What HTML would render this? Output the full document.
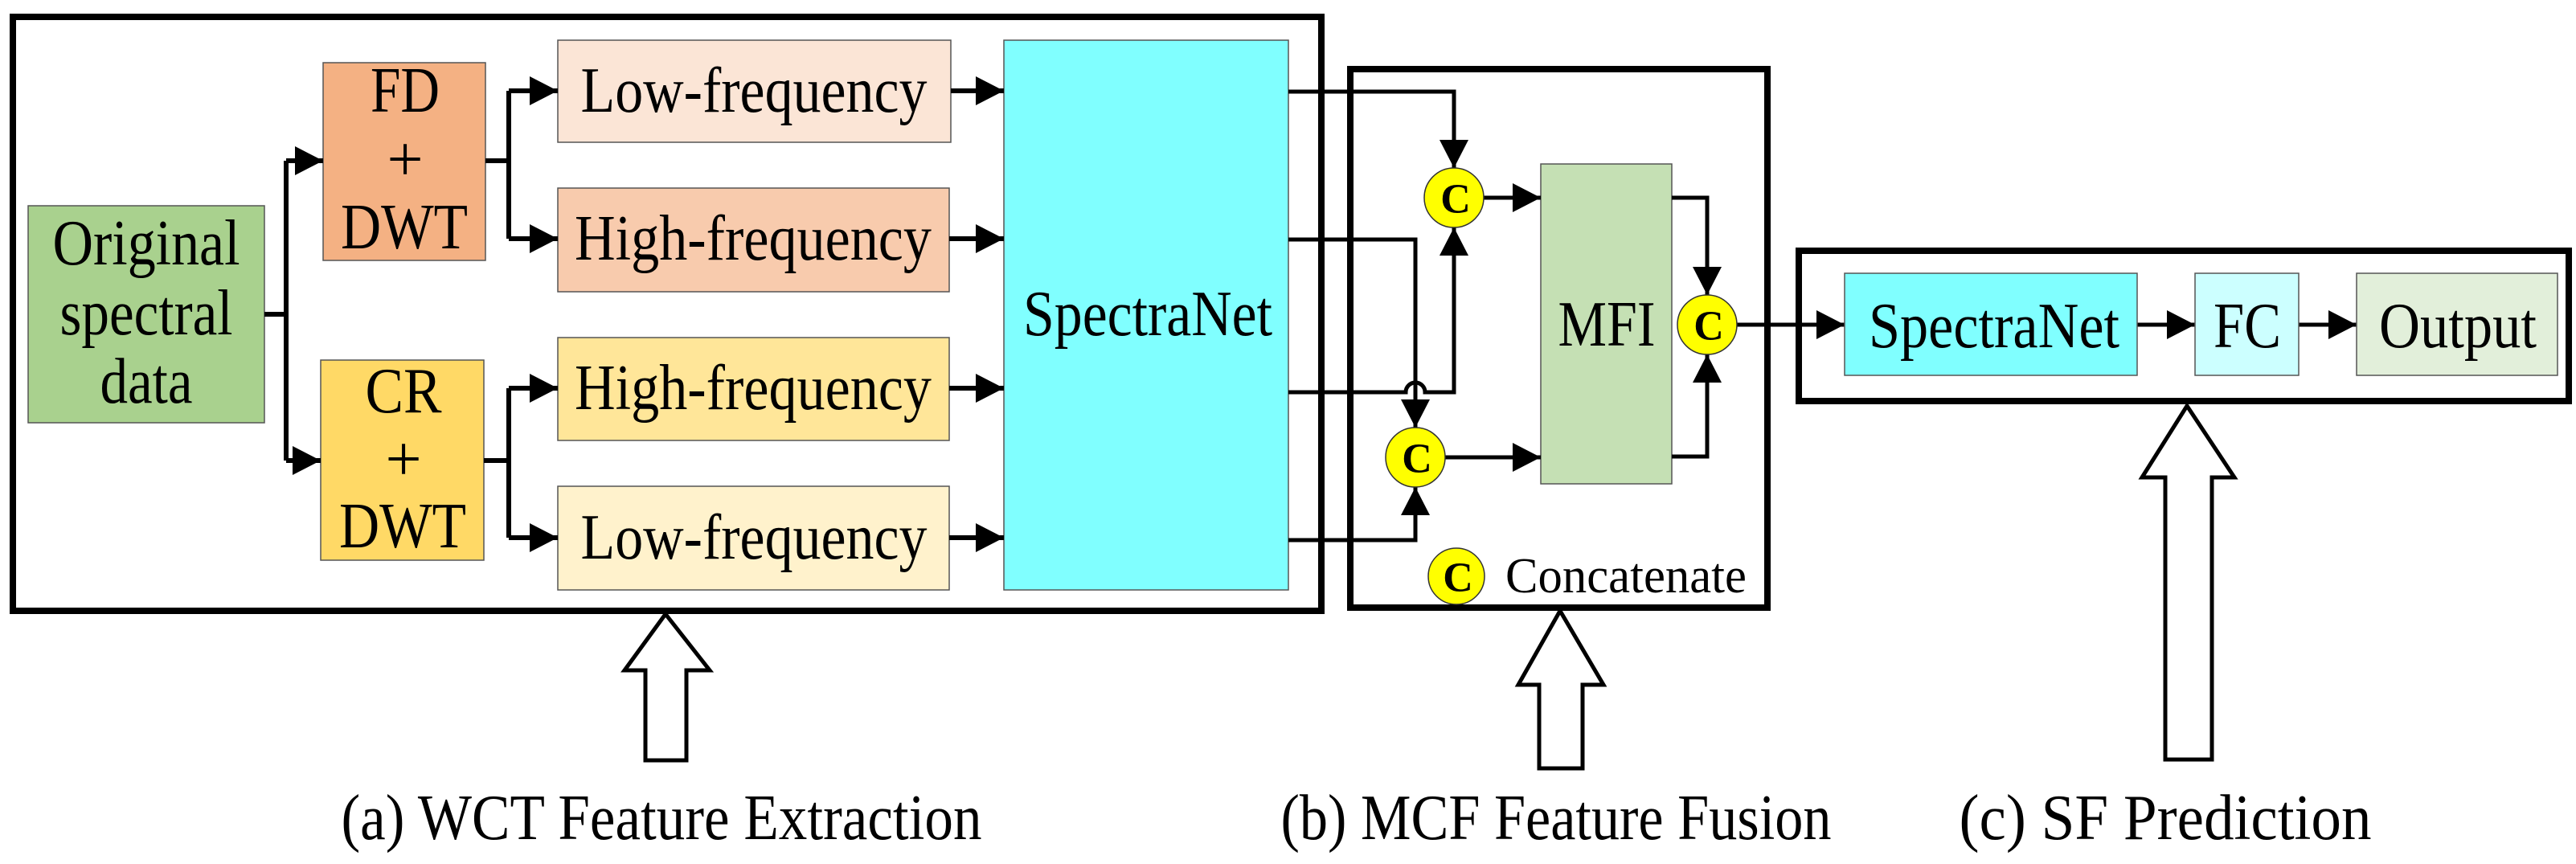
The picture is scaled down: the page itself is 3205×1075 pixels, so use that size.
<!DOCTYPE html>
<html><head><meta charset="utf-8"><style>html,body{margin:0;padding:0;background:#fff}svg{display:block}text{font-family:"Liberation Serif","Times New Roman",serif}</style></head>
<body>
<svg width="3205" height="1075" viewBox="0 0 3205 1075" xmlns="http://www.w3.org/2000/svg" style="font-family:'Liberation Serif',serif">
<defs>
<marker id="a" markerUnits="userSpaceOnUse" markerWidth="36" markerHeight="38" refX="35" refY="18" orient="auto"><path d="M0,0 L35,18 L0,36 Z" fill="#000"/></marker>
</defs>
<rect x="16" y="21" width="1628" height="739" fill="none" stroke="#000" stroke-width="8"/>
<rect x="1680" y="86" width="519" height="670" fill="none" stroke="#000" stroke-width="8"/>
<rect x="2238" y="312" width="958" height="187" fill="none" stroke="#000" stroke-width="8"/>

<rect x="35" y="256" width="294" height="270" fill="#a9d18e" stroke="#555" stroke-width="1.5"/>
<rect x="402" y="78" width="202" height="246" fill="#f4b183" stroke="#555" stroke-width="1.5"/>
<rect x="399" y="448" width="203" height="249" fill="#ffd966" stroke="#555" stroke-width="1.5"/>
<rect x="694" y="50" width="489" height="127" fill="#fbe5d6" stroke="#555" stroke-width="1.5"/>
<rect x="694" y="234" width="487" height="129" fill="#f8cbad" stroke="#555" stroke-width="1.5"/>
<rect x="694" y="420" width="487" height="128" fill="#ffe699" stroke="#555" stroke-width="1.5"/>
<rect x="694" y="605" width="487" height="129" fill="#fff2cc" stroke="#555" stroke-width="1.5"/>
<rect x="1249" y="50" width="354" height="684" fill="#80ffff" stroke="#555" stroke-width="1.5"/>

<g font-size="80" text-anchor="middle" dominant-baseline="central">
<text x="182" y="303" textLength="233" lengthAdjust="spacingAndGlyphs">Original</text>
<text x="182" y="390" textLength="215" lengthAdjust="spacingAndGlyphs">spectral</text>
<text x="182" y="475" textLength="115" lengthAdjust="spacingAndGlyphs">data</text>
<text x="504" y="113" textLength="86" lengthAdjust="spacingAndGlyphs">FD</text>
<text x="504" y="199">+</text>
<text x="503" y="283" textLength="158" lengthAdjust="spacingAndGlyphs">DWT</text>
<text x="502" y="487" textLength="95" lengthAdjust="spacingAndGlyphs">CR</text>
<text x="502" y="572">+</text>
<text x="501" y="655" textLength="158" lengthAdjust="spacingAndGlyphs">DWT</text>
<text x="938" y="113" textLength="431" lengthAdjust="spacingAndGlyphs">Low-frequency</text>
<text x="937" y="297" textLength="444" lengthAdjust="spacingAndGlyphs">High-frequency</text>
<text x="937" y="483" textLength="444" lengthAdjust="spacingAndGlyphs">High-frequency</text>
<text x="938" y="669" textLength="431" lengthAdjust="spacingAndGlyphs">Low-frequency</text>
<text x="1428" y="391" textLength="310" lengthAdjust="spacingAndGlyphs">SpectraNet</text>
</g>

<g stroke="#000" stroke-width="6" fill="none">
<path d="M329,391 H356"/>
<path d="M356,200 V573"/>
<path d="M356,200 H402" marker-end="url(#a)"/>
<path d="M356,573 H399" marker-end="url(#a)"/>
<path d="M604,200 H633"/>
<path d="M633,113 V297"/>
<path d="M633,113 H694" marker-end="url(#a)"/>
<path d="M633,297 H694" marker-end="url(#a)"/>
<path d="M602,573 H633"/>
<path d="M633,483 V669"/>
<path d="M633,483 H694" marker-end="url(#a)"/>
<path d="M633,669 H694" marker-end="url(#a)"/>
<path d="M1183,113 H1249" marker-end="url(#a)"/>
<path d="M1181,297 H1249" marker-end="url(#a)"/>
<path d="M1181,483 H1249" marker-end="url(#a)"/>
<path d="M1181,669 H1249" marker-end="url(#a)"/>
</g>

<rect x="1917" y="204" width="163" height="398" fill="#c5e0b4" stroke="#555" stroke-width="1.5"/>
<g stroke="#000" stroke-width="5" fill="none">
<path d="M1603,114 H1809 V209" marker-end="url(#a)"/>
<path d="M1603,298 H1761 V532" marker-end="url(#a)"/>
<path d="M1603,488 H1749 A12,12 0 0 1 1773,488 H1809 V283" marker-end="url(#a)"/>
<path d="M1603,672 H1761 V606" marker-end="url(#a)"/>
<path d="M1846,246 H1917" marker-end="url(#a)"/>
<path d="M1798,569 H1917" marker-end="url(#a)"/>
<path d="M2080,246 H2124 V367" marker-end="url(#a)"/>
<path d="M2080,568 H2124 V441" marker-end="url(#a)"/>
<path d="M2161,404 H2295" marker-end="url(#a)"/>
<path d="M2659,404 H2731" marker-end="url(#a)"/>
<path d="M2860,404 H2932" marker-end="url(#a)"/>
</g>
<g fill="#ffff00" stroke="#333" stroke-width="1.5">
<circle cx="1809" cy="246" r="37"/>
<circle cx="1761" cy="569" r="37"/>
<circle cx="2124" cy="404" r="37"/>
<circle cx="1812" cy="717" r="35"/>
</g>
<g font-size="52" font-weight="bold" text-anchor="middle" dominant-baseline="central">
<text x="1811" y="248">C</text>
<text x="1763" y="571">C</text>
<text x="2126" y="406">C</text>
<text x="1814" y="719">C</text>
</g>
<text x="2023" y="717" font-size="62" text-anchor="middle" dominant-baseline="central" textLength="300" lengthAdjust="spacingAndGlyphs">Concatenate</text>
<text x="1999" y="404" font-size="80" text-anchor="middle" dominant-baseline="central" textLength="121" lengthAdjust="spacingAndGlyphs">MFI</text>

<rect x="2295" y="340" width="364" height="127" fill="#80ffff" stroke="#555" stroke-width="1.5"/>
<rect x="2731" y="340" width="129" height="127" fill="#ccffff" stroke="#555" stroke-width="1.5"/>
<rect x="2932" y="340" width="250" height="127" fill="#e2efda" stroke="#555" stroke-width="1.5"/>
<g font-size="80" text-anchor="middle" dominant-baseline="central">
<text x="2481" y="406" textLength="312" lengthAdjust="spacingAndGlyphs">SpectraNet</text>
<text x="2796" y="406" textLength="84" lengthAdjust="spacingAndGlyphs">FC</text>
<text x="3058" y="406" textLength="196" lengthAdjust="spacingAndGlyphs">Output</text>
</g>

<g fill="#fff" stroke="#000" stroke-width="5">
<path d="M828,764 L883,834 H854 V946 H803 V834 H777 Z"/>
<path d="M1941,760 L1995,852 H1969 V956 H1915 V852 H1889 Z"/>
<path d="M2721,505 L2780,594 H2752 V945 H2694 V594 H2665 Z"/>
</g>

<g font-size="80" text-anchor="middle" dominant-baseline="central">
<text x="823" y="1018" textLength="797" lengthAdjust="spacingAndGlyphs">(a) WCT Feature Extraction</text>
<text x="1936" y="1018" textLength="685" lengthAdjust="spacingAndGlyphs">(b) MCF Feature Fusion</text>
<text x="2694" y="1018" textLength="513" lengthAdjust="spacingAndGlyphs">(c) SF Prediction</text>
</g>
</svg>
</body></html>
